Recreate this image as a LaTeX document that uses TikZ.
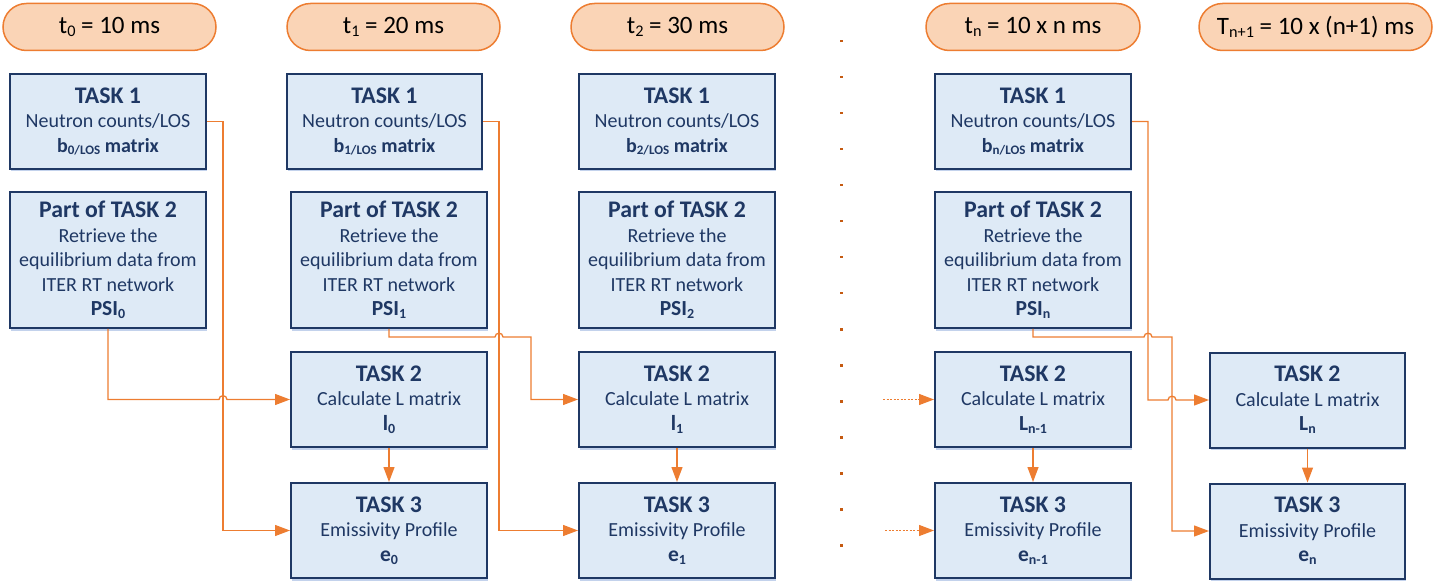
\documentclass[tikz,border=0pt]{standalone}
\usepackage{fontspec}
\setmainfont{Carlito}
\usepackage{graphicx}
\usetikzlibrary{arrows.meta,shadows}
\definecolor{lineor}{HTML}{ED7D31}
\definecolor{hdrfill}{HTML}{FAD4B6}
\definecolor{boxfill}{HTML}{DEEAF6}
\definecolor{boxdraw}{HTML}{1F3864}
\definecolor{txtc}{HTML}{1F3864}
\definecolor{dotc}{HTML}{C55A11}
\definecolor{shadc}{HTML}{B4C7E7}
\newcommand{\lo}[1]{\raisebox{-0.3ex}{\scalebox{0.65}{#1}}}
\newcommand{\ttl}[1]{{\fontsize{23.8}{24.5}\selectfont\bfseries #1}}
\newcommand{\sym}[1]{{\fontsize{21.5}{24.5}\selectfont\bfseries #1}}
\tikzset{
  hdr/.style={draw=lineor, fill=hdrfill, line width=1.5pt, rounded corners=23.5pt,
    minimum width=213pt, minimum height=47pt, inner sep=0pt, text=black,
    font=\fontsize{25}{28}\selectfont},
  taskbox/.style={draw=boxdraw, fill=boxfill, line width=2pt, inner sep=0pt,
    minimum width=196pt, minimum height=95pt, align=center, text=txtc,
    font=\fontsize{20}{24.5}\selectfont,
    drop shadow={shadow xshift=0.5pt, shadow yshift=-2.5pt, fill=shadc, opacity=0.8}},
  tallbox/.style={taskbox, minimum height=136pt},
  conn/.style={draw=lineor, line width=1.3pt},
  arr/.style={conn, -{Triangle[length=15pt,width=11pt]}},
  dotarr/.style={arr, dash pattern=on 2pt off 1.5pt}
}
\begin{document}
\begin{tikzpicture}[x=1pt,y=-1pt]
\useasboundingbox (0,0) rectangle (1443,585);
% headers
\node[hdr] (h0) at (109.5,27) {t\lo{0} = 10 ms};
\node[hdr] (h1) at (393.5,27) {t\lo{1} = 20 ms};
\node[hdr] (h2) at (677.5,27) {t\lo{2} = 30 ms};
\node[hdr, minimum width=214pt] (hn) at (1033,27) {t\lo{n} = 10 x n ms};
\node[hdr, minimum width=233pt] (hm) at (1315.5,27) {T\lo{n+1} = 10 x (n+1) ms};
% column 0
\node[taskbox] (a0) at (108,121.5) {\ttl{TASK 1}\\Neutron counts/LOS\\\textbf{b\lo{0/LOS} matrix}};
\node[tallbox] (p0) at (108,260) {\ttl{Part of TASK 2}\\Retrieve the\\equilibrium data from\\ITER RT network\\\sym{PSI\lo{0}}};
% column 1
\node[taskbox, minimum width=195pt] (a1) at (384.5,121.5) {\ttl{TASK 1}\\Neutron counts/LOS\\\textbf{b\lo{1/LOS} matrix}};
\node[tallbox] (p1) at (389,260) {\ttl{Part of TASK 2}\\Retrieve the\\equilibrium data from\\ITER RT network\\\sym{PSI\lo{1}}};
\node[taskbox] (b1) at (389,399.5) {\ttl{TASK 2}\\Calculate L matrix\\\sym{l\lo{0}}};
\node[taskbox] (c1) at (389,530.5) {\ttl{TASK 3}\\Emissivity Profile\\\sym{e\lo{0}}};
% column 2
\node[taskbox] (a2) at (677,121.5) {\ttl{TASK 1}\\Neutron counts/LOS\\\textbf{b\lo{2/LOS} matrix}};
\node[tallbox] (p2) at (677,260) {\ttl{Part of TASK 2}\\Retrieve the\\equilibrium data from\\ITER RT network\\\sym{PSI\lo{2}}};
\node[taskbox] (b2) at (677,399.5) {\ttl{TASK 2}\\Calculate L matrix\\\sym{l\lo{1}}};
\node[taskbox] (c2) at (677,530.5) {\ttl{TASK 3}\\Emissivity Profile\\\sym{e\lo{1}}};
% column n
\node[taskbox] (an) at (1033,121.5) {\ttl{TASK 1}\\Neutron counts/LOS\\\textbf{b\lo{n/LOS} matrix}};
\node[tallbox] (pn) at (1033,260) {\ttl{Part of TASK 2}\\Retrieve the\\equilibrium data from\\ITER RT network\\\sym{PSI\lo{n}}};
\node[taskbox] (bn) at (1033,399.5) {\ttl{TASK 2}\\Calculate L matrix\\\sym{L\lo{n-1}}};
\node[taskbox] (cn) at (1033,530.5) {\ttl{TASK 3}\\Emissivity Profile\\\sym{e\lo{n-1}}};
% column n+1
\node[taskbox, minimum width=195pt] (bm) at (1307.5,400) {\ttl{TASK 2}\\Calculate L matrix\\\sym{L\lo{n}}};
\node[taskbox, minimum width=195pt] (cm) at (1307.5,531) {\ttl{TASK 3}\\Emissivity Profile\\\sym{e\lo{n}}};
% dots column
\foreach \k in {0,...,14} \fill[dotc] (839.5,{40+36*\k}) rectangle ++(3,2.5);
% connectors
\draw[arr] (a0.east) -- (223,121.5) -- (223,530.5) -- (c1.west);
\draw[arr] (p0.south) -- (108,399.5) -- (219,399.5) .. controls (219,394.5) and (227,394.5) .. (227,399.5) -- (b1.west);
\draw[arr] (a1.east) -- (499,121.5) -- (499,530.5) -- (c2.west);
\draw[arr] (p1.south) -- (389,337) -- (495,337) .. controls (495,332) and (503,332) .. (503,337) -- (531,337) -- (531,399.5) -- (b2.west);
\draw[arr] (an.east) -- (1148,121.5) -- (1148,400) -- (1168,400) .. controls (1168,395) and (1176,395) .. (1176,400) -- (bm.west);
\draw[arr] (pn.south) -- (1033,337) -- (1144,337) .. controls (1144,332) and (1152,332) .. (1152,337) -- (1172,337) -- (1172,531) -- (cm.west);
\draw[arr] (b1.south) -- (c1.north);
\draw[arr] (b2.south) -- (c2.north);
\draw[arr] (bn.south) -- (cn.north);
\draw[arr] (bm.south) -- (cm.north);
\coordinate (dn1) at (883,399.5);
\coordinate (dn2) at (885,530.5);
\draw[dotarr] (dn1) -- (bn.west);
\draw[dotarr] (dn2) -- (cn.west);
\end{tikzpicture}
\end{document}
